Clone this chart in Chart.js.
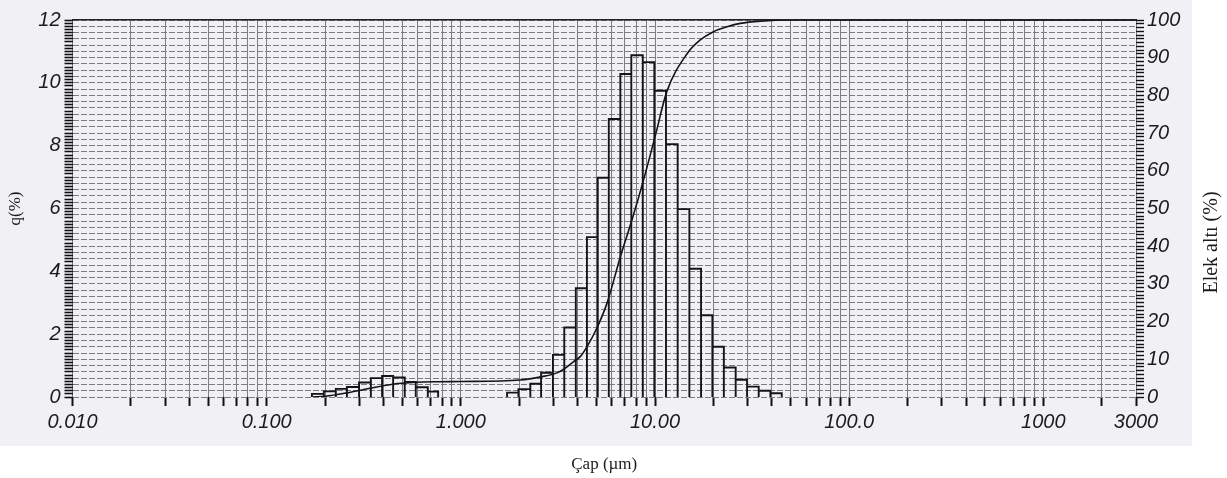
<!DOCTYPE html>
<html>
<head>
<meta charset="utf-8">
<title>Tane boyutu dağılımı</title>
<script src="https://cdn.jsdelivr.net/npm/chart.js@4/dist/chart.umd.min.js"></script>
<style>
  body { margin: 0; background: #ffffff; }
  #wrap { width: 1227px; height: 478px; }
</style>
</head>
<body>
<div id="wrap"><canvas id="psd"></canvas></div>
<script>
// bin edges (µm) and q(%) of each bin
var fineEdges = [0.171, 0.197, 0.227, 0.259, 0.299, 0.344, 0.393, 0.448, 0.514, 0.586, 0.676, 0.764];
var fineQ = [0.10, 0.18, 0.26, 0.32, 0.46, 0.60, 0.67, 0.62, 0.48, 0.31, 0.17];

var mainEdges = [1.73, 1.98, 2.28, 2.59, 2.98, 3.41, 3.91, 4.46, 5.07, 5.78, 6.63, 7.55, 8.65,
                 9.92, 11.39, 13.08, 15.03, 17.26, 19.74, 22.62, 26.03, 29.80, 34.20, 39.29, 44.95];
var mainQ = [0.14, 0.25, 0.42, 0.77, 1.34, 2.21, 3.46, 5.09, 6.98, 8.85, 10.28, 10.88,
             10.66, 9.75, 8.05, 5.98, 4.08, 2.60, 1.60, 0.94, 0.55, 0.33, 0.20, 0.12];

// cumulative undersize curve (Elek altı %)
var cumSize = [0.171, 0.20, 0.259, 0.341, 0.446, 0.588, 0.76, 1.0, 2.02, 2.62, 3.13, 3.37, 3.81, 4.12,
               4.46, 5.02, 5.66, 6.63, 7.61, 8.73, 10.0, 11.5, 14.6, 17.1, 20.0, 23.5, 27.5, 35, 50, 3000];
var cumPct = [0, 0.2, 1.1, 2.3, 3.4, 3.9, 4.05, 4.1, 4.5, 5.4, 6.4, 7.3, 9.4, 10.7,
              13.3, 18.3, 24.9, 37.2, 47, 57.6, 69, 81, 91, 94.7, 96.9, 98.2, 99.1, 99.7, 100, 100];

// tick labels
var xTickValues = [0.01, 0.1, 1, 10, 100, 1000, 3000];
var xTickLabels = ['0.010', '0.100', '1.000', '10.00', '100.0', '1000', '3000'];
var leftTickLabels = [0, 2, 4, 6, 8, 10, 12];
var rightTickLabels = [0, 10, 20, 30, 40, 50, 60, 70, 80, 90, 100];

var tickFont = { family: '"Liberation Sans", Arial, sans-serif', size: 20, style: 'italic' };
var serif = '"Liberation Serif", "Times New Roman", serif';
var ink = '#1b1b1b';
var gridGrey = '#7d7d7d';

function outline(edges, q) {
    var pts = [];
    for (var i = 0; i < q.length; i++) {
        pts.push({x: edges[i], y: 0}, {x: edges[i], y: q[i]},
                 {x: edges[i + 1], y: q[i]}, {x: edges[i + 1], y: 0});
    }
    return pts;
}

function gridSizes() {
    // 1..9 x each decade, up to the axis end
    var out = [];
    for (var d = 0.01; d < 2000; d *= 10) {
        for (var m = 1; m <= 9; m++) {
            var v = Math.round(m * d * 1000) / 1000;
            if (v <= 3000) out.push(v);
        }
    }
    return out;
}

function xLabel(v) {
    for (var i = 0; i < xTickValues.length; i++) {
        if (Math.abs(v - xTickValues[i]) < 1e-9 * xTickValues[i] + 1e-12) return xTickLabels[i];
    }
    return '';
}

var histData = outline(fineEdges, fineQ).concat([{x: 1, y: null}], outline(mainEdges, mainQ));
var cumData = cumSize.map(function (s, i) { return {x: s, y: cumPct[i]}; });

var paperTint = {
    id: 'paperTint',
    beforeDraw: function (chart) {
        var ctx = chart.ctx;
        ctx.save();
        ctx.fillStyle = '#f1f1f5';
        ctx.fillRect(0, 0, chart.width - 35, chart.height - 32);
        ctx.restore();
    }
};

// right axis title reads bottom-to-top like the left one
var rightTitle = {
    id: 'rightTitle',
    afterDraw: function (chart) {
        var s = chart.scales.y1;
        var ctx = chart.ctx;
        ctx.save();
        ctx.translate(s.right - 15, (s.top + s.bottom) / 2 + 34);
        ctx.rotate(-Math.PI / 2);
        ctx.font = '20px ' + serif;
        ctx.fillStyle = ink;
        ctx.textAlign = 'center';
        ctx.textBaseline = 'middle';
        ctx.fillText('Elek altı (%)', 0, 0);
        ctx.restore();
    }
};

new Chart(document.getElementById('psd'), {
    type: 'line',
    data: {
        datasets: [
            {
                label: 'q(%)',
                data: histData,
                yAxisID: 'y',
                borderColor: '#151515',
                borderWidth: 1.9,
                borderJoinStyle: 'miter',
                pointRadius: 0,
                fill: false,
                tension: 0,
                spanGaps: false
            },
            {
                label: 'Elek altı (%)',
                data: cumData,
                yAxisID: 'y1',
                borderColor: '#151515',
                borderWidth: 1.6,
                pointRadius: 0,
                fill: false,
                cubicInterpolationMode: 'monotone'
            }
        ]
    },
    options: {
        responsive: true,
        maintainAspectRatio: false,
        animation: false,
        layout: { padding: { top: 20, left: 0, right: 0, bottom: 0 } },
        plugins: { legend: { display: false }, tooltip: { enabled: false } },
        scales: {
            x: {
                type: 'logarithmic',
                position: 'bottom',
                min: 0.01,
                max: 3000,
                afterBuildTicks: function (s) {
                    s.ticks = gridSizes().map(function (v) { return {value: v}; });
                },
                afterFit: function (s) { s.height = 81; },
                grid: {
                    color: gridGrey,
                    lineWidth: 1,
                    tickColor: '#111',
                    tickLength: 9,
                    tickWidth: 2
                },
                border: { display: false },
                ticks: {
                    autoSkip: false,
                    maxRotation: 0,
                    padding: 4,
                    color: ink,
                    font: tickFont,
                    callback: function (v) { return xLabel(v); }
                },
                title: {
                    display: true,
                    text: 'Çap (µm)',
                    color: ink,
                    font: { family: serif, size: 17 },
                    padding: { top: 0, bottom: 3 }
                }
            },
            xTop: {
                type: 'linear',
                position: 'top',
                min: 0,
                max: 1,
                afterFit: function (s) { s.height = 0; },
                ticks: { display: false },
                grid: { drawOnChartArea: false, drawTicks: false },
                border: { display: true, color: '#222', width: 1.5 }
            },
            y: {
                type: 'linear',
                position: 'left',
                min: 0,
                max: 12,
                afterFit: function (s) { s.width = 72.5; },
                grid: {
                    color: function (c) {
                        if (!c.tick) return gridGrey;
                        return Math.round(c.tick.value * 10) % 2 === 0 ? gridGrey : 'rgba(0,0,0,0)';
                    },
                    tickColor: '#111',
                    tickLength: 8,
                    tickWidth: 1.6
                },
                border: { display: false, dash: [6, 2] },
                ticks: {
                    stepSize: 0.1,
                    autoSkip: false,
                    padding: 4,
                    color: ink,
                    font: tickFont,
                    callback: function (v) {
                        var r = Math.round(v);
                        return (Math.abs(v - r) < 1e-6 && leftTickLabels.indexOf(r) >= 0) ? String(r) : '';
                    }
                },
                title: {
                    display: true,
                    text: 'q(%)',
                    color: ink,
                    font: { family: serif, size: 17 },
                    padding: { top: 5, bottom: 0 }
                }
            },
            y1: {
                type: 'linear',
                position: 'right',
                min: 0,
                max: 100,
                afterFit: function (s) { s.width = 91; },
                grid: {
                    drawOnChartArea: false,
                    tickColor: '#111',
                    tickLength: 8,
                    tickWidth: 1.4
                },
                border: { display: false },
                ticks: {
                    stepSize: 1,
                    autoSkip: false,
                    padding: 3,
                    color: ink,
                    font: tickFont,
                    callback: function (v) {
                        var r = Math.round(v);
                        return (Math.abs(v - r) < 1e-6 && rightTickLabels.indexOf(r) >= 0) ? String(r) : '';
                    }
                }
            }
        }
    },
    plugins: [paperTint, rightTitle]
});
</script>
</body>
</html>
